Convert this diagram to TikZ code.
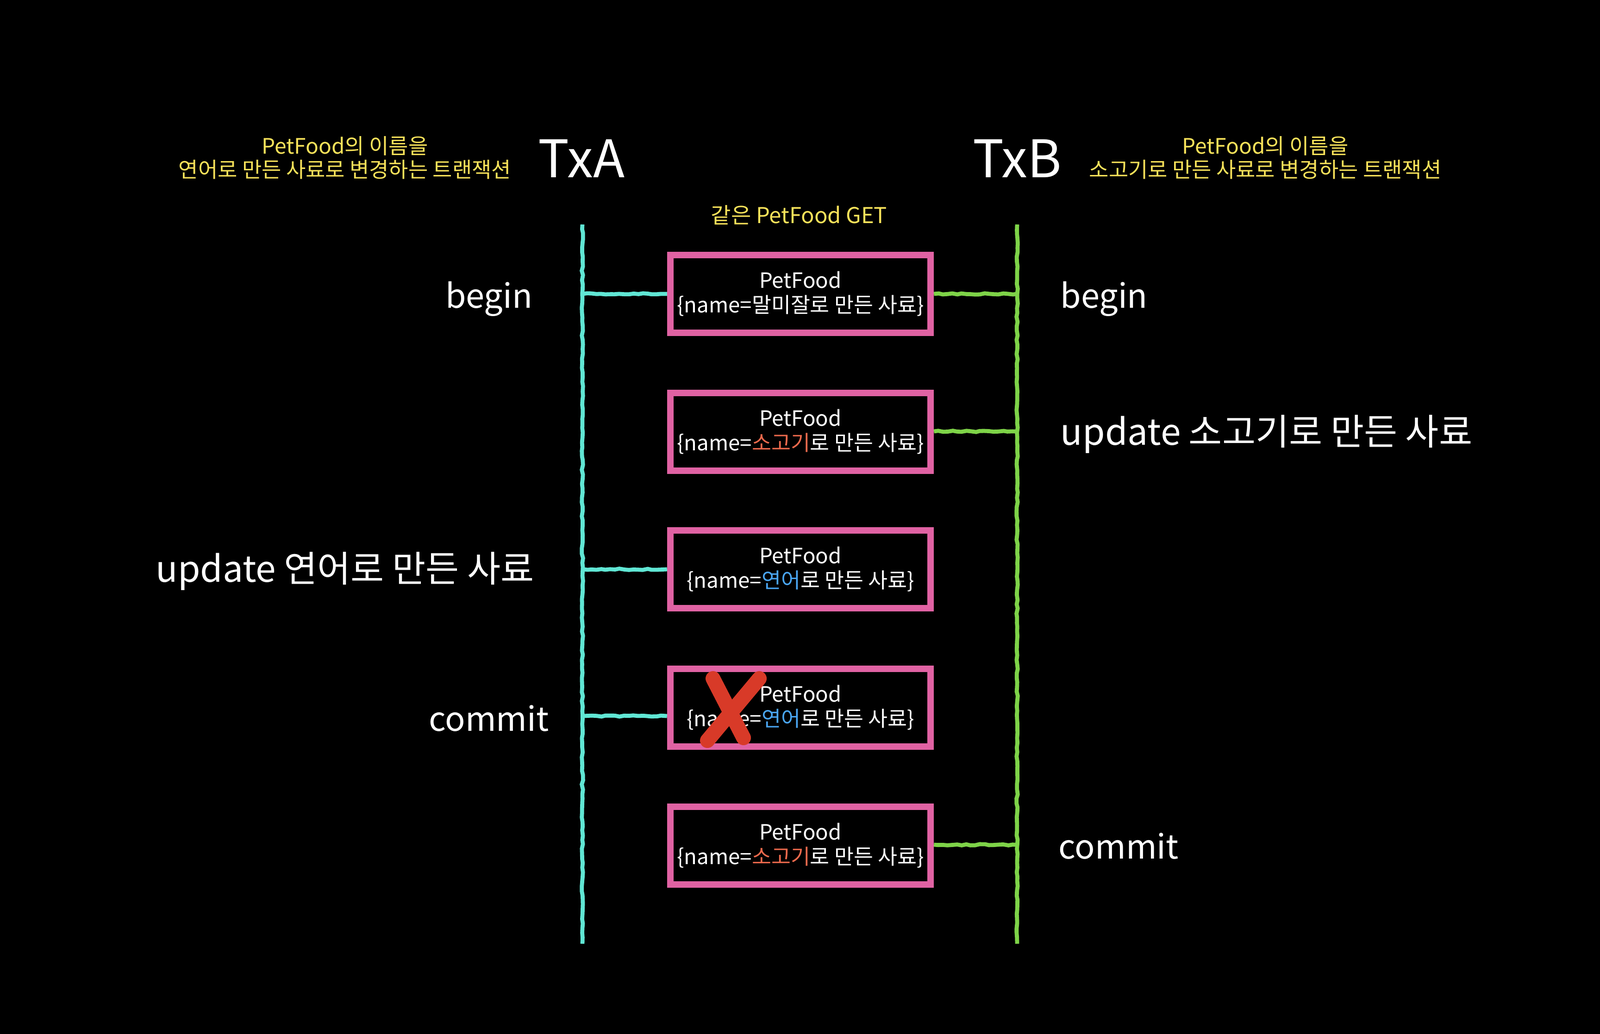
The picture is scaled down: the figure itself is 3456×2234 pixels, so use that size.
\documentclass[tikz,border=0pt]{standalone}
\usepackage{fontspec}
\setmainfont{Noto Sans CJK KR}
\usetikzlibrary{decorations.pathmorphing}
\definecolor{chalkcyan}{HTML}{60E6D4}
\definecolor{chalkgreen}{HTML}{7ED348}
\definecolor{chalkpink}{HTML}{E062A3}
\definecolor{txtorange}{HTML}{EE6A4D}
\definecolor{txtblue}{HTML}{4AA6F2}
\definecolor{txtyellow}{HTML}{F7E25A}
\definecolor{xred}{HTML}{D83A28}
\tikzset{
  rough/.style={decorate, decoration={random steps, segment length=2.5pt, amplitude=0.35pt}},
  petbox/.style={draw=chalkpink, line width=3.6pt, minimum width=140.5pt, minimum height=42pt,
    inner sep=0pt, align=center, text=white, font=\fontsize{11.4}{13.2}\selectfont},
  cyanline/.style={draw=chalkcyan, line width=2.2pt, rough},
  greenline/.style={draw=chalkgreen, line width=2.2pt, rough},
  txlabel/.style={text=white, font=\fontsize{28}{32}\selectfont, inner sep=0pt},
  steplabel/.style={text=white, font=\fontsize{18}{22}\selectfont, inner sep=0pt},
  bigstep/.style={text=white, font=\fontsize{19.6}{23}\selectfont, inner sep=0pt},
  note/.style={text=txtyellow, align=center, font=\fontsize{11.5}{12.8}\selectfont, inner sep=0pt},
  getnote/.style={text=txtyellow, font=\fontsize{11.8}{14}\selectfont, inner sep=0pt},
}
\begin{document}
\begin{tikzpicture}[x=0.25pt, y=-0.25pt]
\useasboundingbox[fill=black] (0,0) rectangle (3456,2234);

% headers
\node[txlabel] (txa) at (1256,342) {TxA};
\node[txlabel] (txb) at (2197,342) {TxB};
\node[note] (na) at (745,341) {PetFood의 이름을\\연어로 만든 사료로 변경하는 트랜잭션};
\node[note] (nb) at (2733,341) {PetFood의 이름을\\소고기로 만든 사료로 변경하는 트랜잭션};
\node[getnote] (get) at (1726,465) {같은 PetFood GET};

% lifelines
\coordinate (atop) at (1258,485);
\coordinate (abot) at (1258,2039);
\coordinate (btop) at (2197,485);
\coordinate (bbot) at (2197,2039);
\draw[cyanline] (atop) -- (abot);
\draw[greenline] (btop) -- (bbot);

% boxes
\node[petbox] (b1) at (1729,635) {PetFood\\\{name=말미잘로 만든 사료\}};
\node[petbox] (b2) at (1729,933) {PetFood\\\{name=\textcolor{txtorange}{소고기}로 만든 사료\}};
\node[petbox] (b3) at (1729,1230) {PetFood\\\{name=\textcolor{txtblue}{연어}로 만든 사료\}};
\node[petbox] (b4) at (1729,1529) {PetFood\\\{name=\textcolor{txtblue}{연어}로 만든 사료\}};
\node[petbox] (b5) at (1729,1827) {PetFood\\\{name=\textcolor{txtorange}{소고기}로 만든 사료\}};

% connectors TxA
\coordinate (a1) at (1258,635);
\coordinate (a3) at (1258,1230);
\coordinate (a4) at (1258,1547);
\draw[cyanline] (a1) -- (a1 -| b1.west);
\draw[cyanline] (a3) -- (a3 -| b3.west);
\draw[cyanline] (a4) -- (a4 -| b4.west);

% connectors TxB
\coordinate (c1) at (2197,635);
\coordinate (c2) at (2197,932);
\coordinate (c5) at (2197,1825);
\draw[greenline] (c1) -- (c1 -| b1.east);
\draw[greenline] (c2) -- (c2 -| b2.east);
\draw[greenline] (c5) -- (c5 -| b5.east);

% red cross
\coordinate (x1) at (1540,1466);
\coordinate (x2) at (1606,1594);
\coordinate (x3) at (1640,1466);
\coordinate (x4) at (1528,1600);
\draw[xred, line width=8pt, line cap=round] (x1) -- (x2);
\draw[xred, line width=8pt, line cap=round] (x3) -- (x4);

% step labels
\node[steplabel] (la1) at (1056,646) {begin};
\node[bigstep] (la3) at (745,1234) {update 연어로 만든 사료};
\node[steplabel] (la4) at (1056,1552) {commit};
\node[steplabel, anchor=west] (lb1) at (2290,646) {begin};
\node[bigstep, anchor=west] (lb2) at (2290,938) {update 소고기로 만든 사료};
\node[steplabel, anchor=west] (lb5) at (2286,1828) {commit};
\end{tikzpicture}
\end{document}
